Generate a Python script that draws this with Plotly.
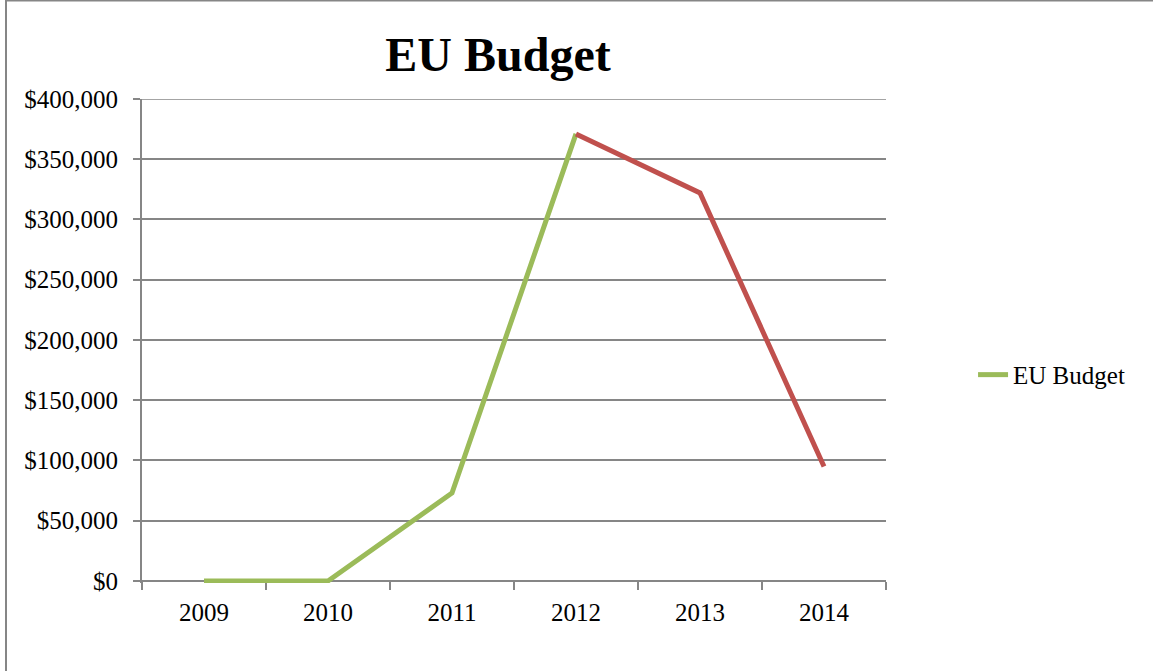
import plotly.graph_objects as go

years = ["2009", "2010", "2011", "2012", "2013", "2014"]
budget = [0, 0, 73000, 371000, 322000, 95000]
green_years = years[:4]
green_vals = budget[:4]
red_years = years[3:]
red_vals = budget[3:]

GREEN = "#9BBB59"
RED = "#C0504D"
GRID = "#868686"
FONT = "Liberation Serif"
YMIN = -1700
YMAX = 400000

fig = go.Figure()
fig.add_trace(go.Scatter(x=green_years, y=green_vals, mode="lines", name="EU Budget",
                         line=dict(color=GREEN, width=5)))
fig.add_trace(go.Scatter(x=red_years, y=red_vals, mode="lines", name="EU Budget",
                         showlegend=False, line=dict(color=RED, width=5)))

fig.update_layout(
    width=1153, height=671,
    margin=dict(l=142, r=267, t=99, b=88),
    paper_bgcolor="white", plot_bgcolor="white",
    font=dict(family=FONT, size=25, color="black"),
    title=dict(text="<b>EU Budget</b>", x=498/1153, xanchor="center",
               y=1-54/671, yanchor="middle", font=dict(family=FONT, size=48, color="black")),
    showlegend=True,
    legend=dict(x=1.117, y=0.43, xanchor="left", yanchor="middle",
                font=dict(family=FONT, size=25, color="black"), bgcolor="rgba(0,0,0,0)"),
    xaxis=dict(type="category", categoryorder="array", categoryarray=years,
               anchor="free", position=(0 - YMIN) / (YMAX - YMIN), layer="below traces",
               tickson="boundaries", ticks="outside", ticklen=8, tickcolor=GRID, tickwidth=2,
               showline=True, linecolor=GRID, linewidth=2, showgrid=False,
               ticklabelstandoff=9,
               tickfont=dict(family=FONT, size=25), range=[-0.5, 5.5]),
    yaxis=dict(range=[YMIN, YMAX], tick0=0, dtick=50000, tickprefix="$", tickformat=",",
               ticks="outside", ticklen=7, tickcolor=GRID, tickwidth=2, layer="below traces",
               showline=True, linecolor=GRID, linewidth=2,
               showgrid=True, gridcolor=GRID, gridwidth=1.5, zeroline=False,
               ticklabelstandoff=10,
               tickfont=dict(family=FONT, size=25)),
    shapes=[
        dict(type="rect", xref="paper", yref="paper",
             x0=(6-142)/744, x1=1.6, y0=-0.5, y1=(581-1)/482,
             line=dict(color=GRID, width=2), fillcolor="rgba(0,0,0,0)", layer="below"),
        dict(type="line", xref="paper", yref="y", x0=0, x1=1, y0=YMAX, y1=YMAX,
             line=dict(color=GRID, width=1.5), layer="below"),
    ],
)

fig.write_html("out.html")
